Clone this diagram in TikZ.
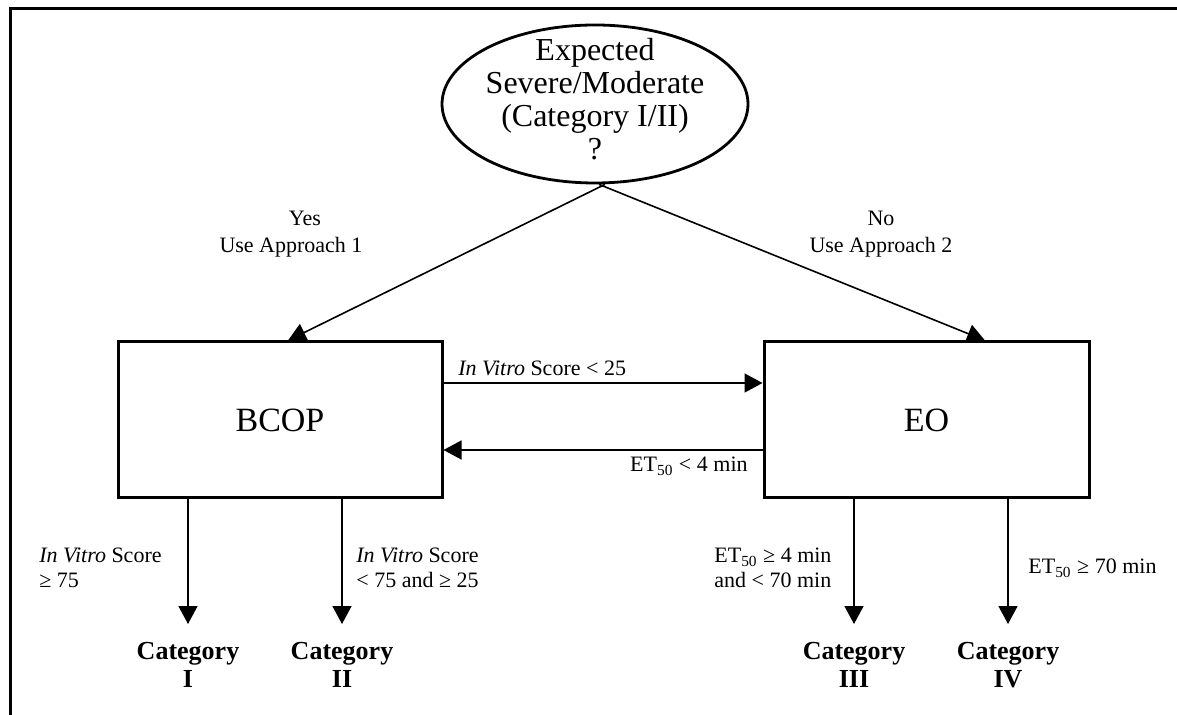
\documentclass[tikz,border=0pt]{standalone}
\usepackage{fontspec}
\setmainfont{Liberation Serif}
\usetikzlibrary{arrows.meta,shapes.geometric}
\begin{document}
\begin{tikzpicture}[x=0.5pt,y=-0.5pt,
  frame/.style={line width=1.5pt},
  query/.style={ellipse,draw,line width=1.4pt,minimum width=153pt,minimum height=79pt,inner sep=0pt},
  querytext/.style={inner sep=0pt,align=center,font=\fontsize{16}{16.5}\selectfont},
  testbox/.style={rectangle,draw,line width=1.5pt,minimum height=78pt,inner sep=0pt,
    font=\fontsize{17}{20}\selectfont},
  cat/.style={align=center,inner xsep=0pt,inner ysep=9pt,anchor=north,
    font=\fontsize{13}{14}\selectfont\bfseries},
  lbl/.style={inner sep=0pt,font=\fontsize{11}{12.5}\selectfont},
  branch/.style={lbl,anchor=north,align=center,font=\fontsize{11}{13.5}\selectfont},
  arr/.style={line width=0.8pt,-{Triangle[length=9pt,width=9.5pt]}},
]
\useasboundingbox (0,0) rectangle (1177,715);

% page frame (open at right and bottom)
\draw[frame] (10,715) -- (10,9) -- (1177,9);

% decision and test boxes
\node[query] (q) at (595,104) {};
\node[querytext] (qt) at (595,99) {Expected\\Severe/Moderate\\(Category I/II)\\?};
\node[testbox,minimum width=162pt] (bcop) at (280,420) {BCOP};
\node[testbox,minimum width=162.5pt] (eo) at (926.5,420) {EO};

% outcome categories
\node[cat] (c1) at (188,624) {Category\\I};
\node[cat] (c2) at (342,624) {Category\\II};
\node[cat] (c3) at (854,624) {Category\\III};
\node[cat] (c4) at (1008,624) {Category\\IV};

% branches from the decision
\coordinate (tL) at (288,0);
\coordinate (tR) at (985,0);
\draw[arr] ([xshift=5pt]q.south) -- (tL |- bcop.north);
\draw[arr] ([xshift=2pt]q.south) -- (tR |- eo.north);
\node[branch] (yes) at (291,211) {\hspace*{14pt}Yes\\Use Approach 1};
\node[branch] (no) at (881,211) {No\\Use Approach 2};

% transfers between the tests
\draw[arr] ([yshift=18.5pt]bcop.east) -- ([yshift=18.5pt]eo.west);
\draw[arr] ([yshift=-15pt]eo.west) -- ([yshift=-15pt]bcop.east);
\node[lbl,anchor=base west] (l1) at (458,376) {\textit{In Vitro} Score < 25};
\node[lbl,anchor=base east] (l2) at (748,472) {ET\textsubscript{50} < 4 min};

% classification arrows
\draw[arr] (c1.north |- bcop.south) -- (c1.north);
\draw[arr] (c2.north |- bcop.south) -- (c2.north);
\draw[arr] (c3.north |- eo.south) -- (c3.north);
\draw[arr] (c4.north |- eo.south) -- (c4.north);
\node[lbl,anchor=north west,align=left] (l3) at (39,548) {\textit{In Vitro} Score\\≥ 75};
\node[lbl,anchor=north west,align=left] (l4) at (356,548) {\textit{In Vitro} Score\\< 75 and ≥ 25};
\node[lbl,anchor=north west,align=left] (l5) at (714,548) {ET\textsubscript{50} ≥ 4 min\\and < 70 min};
\node[lbl,anchor=base west] (l6) at (1028,574) {ET\textsubscript{50} ≥ 70 min};
\end{tikzpicture}
\end{document}
